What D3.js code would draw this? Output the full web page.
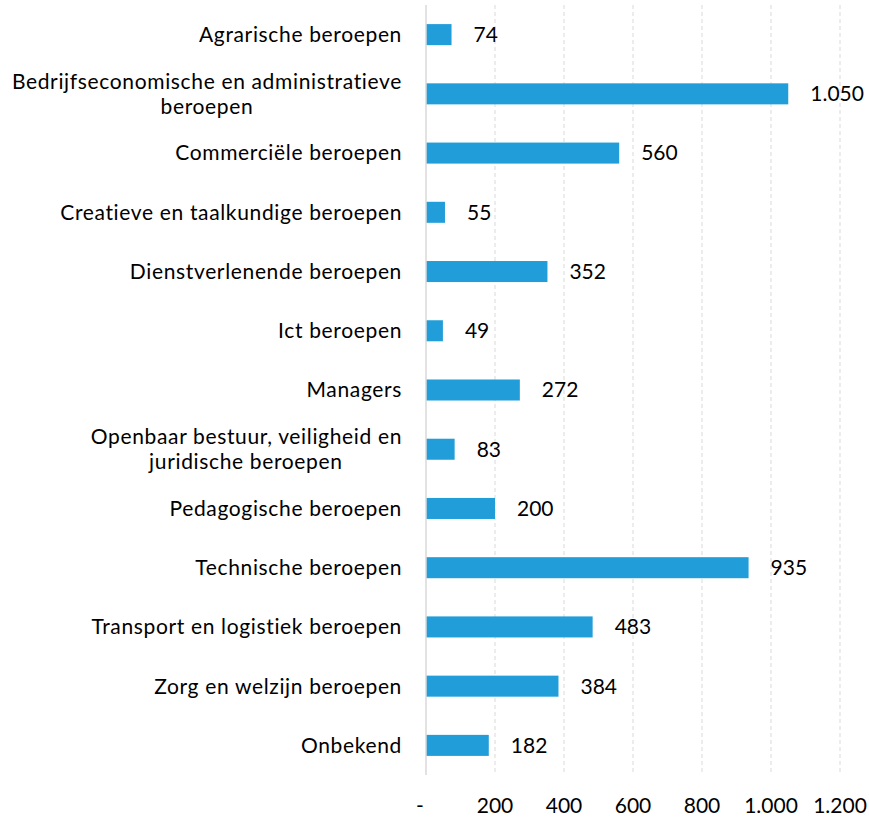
<!DOCTYPE html>
<html><head><meta charset="utf-8">
<script src="https://cdn.jsdelivr.net/npm/d3@7"></script>
<style>
html,body{margin:0;padding:0;background:#fff;}
svg{display:block;font-family:"Lato",sans-serif;}
</style></head>
<body>
<svg id="chart" width="869" height="818"></svg>
<script>
const categories = [
  ["Agrarische beroepen"],
  ["Bedrijfseconomische en administratieve", "beroepen"],
  ["Commerciële beroepen"],
  ["Creatieve en taalkundige beroepen"],
  ["Dienstverlenende beroepen"],
  ["Ict beroepen"],
  ["Managers"],
  ["Openbaar bestuur, veiligheid en", "juridische beroepen"],
  ["Pedagogische beroepen"],
  ["Technische beroepen"],
  ["Transport en logistiek beroepen"],
  ["Zorg en welzijn beroepen"],
  ["Onbekend"]
];
const values = [74, 1050, 560, 55, 352, 49, 272, 83, 200, 935, 483, 384, 182];
const tickValues = [0, 200, 400, 600, 800, 1000, 1200];
const tickLabels = ["-", "200", "400", "600", "800", "1.000", "1.200"];

(function () {
const fmt = d3.formatLocale({decimal: ",", thousands: ".", grouping: [3], currency: ["", ""]}).format(",d");

const svg = d3.select("#chart");
const pL = 426, pR = 840, pT = 5, pB = 775;
const fontSize = 21;

const x = d3.scaleLinear().domain([0, 1200]).range([pL, pR]);
const y = d3.scaleBand().domain(d3.range(categories.length)).range([pT, pB]).paddingInner(0.645).paddingOuter(0.3225);

// gridlines
svg.append("g").selectAll("line").data(tickValues.slice(1)).join("line")
  .attr("x1", d => x(d)).attr("x2", d => x(d))
  .attr("y1", pT).attr("y2", pB)
  .attr("stroke", "#d9d9d9").attr("stroke-width", 1).attr("stroke-dasharray", "4,3");

// bars
svg.append("g").selectAll("rect").data(values).join("rect")
  .attr("x", x(0)).attr("y", (d, i) => y(i))
  .attr("width", d => x(d) - x(0)).attr("height", y.bandwidth())
  .attr("fill", "#219ED9");

// zero axis line
svg.append("line").attr("x1", x(0)).attr("x2", x(0)).attr("y1", pT).attr("y2", pB)
  .attr("stroke", "#d9d9d9").attr("stroke-width", 1.5);

// value labels
svg.append("g").selectAll("text").data(values).join("text")
  .attr("x", d => x(d) + 22).attr("y", (d, i) => y(i) + y.bandwidth() / 2)
  .attr("dy", "0.35em").attr("font-size", fontSize).attr("fill", "#000")
  .text(d => fmt(d));

// category labels
const labelRight = 402;
const lineH = 25;
categories.forEach((lines, i) => {
  const cy = y(i) + y.bandwidth() / 2;
  const g = svg.append("g");
  const texts = lines.map((t, j) => g.append("text")
    .attr("font-size", fontSize).attr("fill", "#000")
    .attr("letter-spacing", "0.65px")
    .attr("y", cy + (j - (lines.length - 1) / 2) * lineH)
    .attr("dy", "0.35em").text(t));
  const maxW = d3.max(texts, t => t.node().getBBox().width);
  texts.forEach(t => {
    const w = t.node().getBBox().width;
    t.attr("x", labelRight - maxW / 2 - w / 2);
  });
});

// x tick labels
svg.append("g").selectAll("text").data(tickValues).join("text")
  .attr("x", d => x(d)).attr("dx", (d, i) => i === 0 ? -6 : 0)
  .attr("y", 806).attr("dy", "0.35em")
  .attr("text-anchor", "middle").attr("font-size", fontSize).attr("fill", "#000")
  .text((d, i) => tickLabels[i]);
})();
</script>
</body></html>
